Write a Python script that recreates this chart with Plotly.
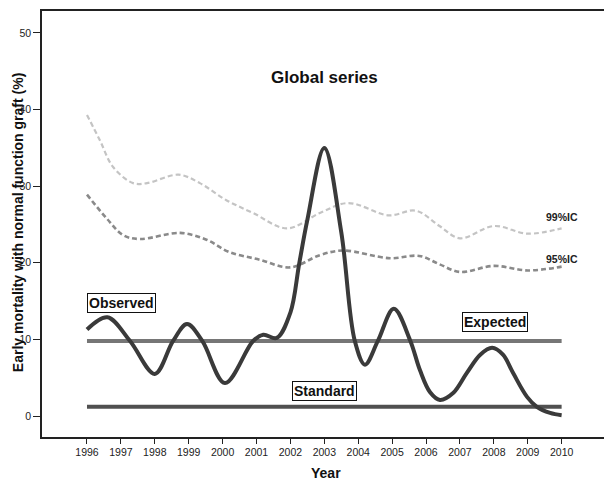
import plotly.graph_objects as go

# ---- data ----
obs_years = [1996.0, 1996.6, 1997.27, 1998.0, 1998.54, 1998.95, 1999.4, 2000.07, 2000.9,
             2001.2, 2001.6, 2002.0, 2002.26, 2002.5, 2003.0, 2003.5, 2003.9, 2004.2,
             2004.58, 2005.05, 2005.53, 2005.82, 2006.12, 2006.41, 2006.8, 2007.2, 2007.6,
             2007.95, 2008.27, 2008.57, 2008.98, 2009.27, 2009.66, 2010.0]
obs_values = [11.3, 12.9, 9.8, 5.5, 9.8, 12.0, 9.8, 4.3, 9.8,
              10.6, 10.2, 13.5, 19.9, 25.6, 35.0, 24.0, 9.8, 6.7,
              9.8, 14.0, 9.9, 6.0, 3.1, 2.1, 3.0, 5.6, 8.0,
              8.9, 8.0, 5.6, 2.5, 1.2, 0.4, 0.1]

ic99_years = [1996.0, 1996.38, 1996.77, 1997.36, 1997.77, 1998.7, 1999.33, 2000.1, 2000.9,
              2001.9, 2002.87, 2003.7, 2004.9, 2005.7, 2006.4, 2007.0, 2008.0, 2009.0, 2010.0]
ic99_values = [39.3, 36.0, 32.5, 30.4, 30.4, 31.5, 30.4, 28.2, 26.5,
               24.5, 26.5, 27.8, 26.2, 26.8, 24.8, 23.2, 24.8, 23.8, 24.5]

ic95_years = [1996.0, 1996.58, 1997.07, 1997.56, 1998.75, 1999.53, 2000.2, 2001.1, 2001.99,
              2002.87, 2003.55, 2004.94, 2005.8, 2006.4, 2007.0, 2008.0, 2009.0, 2010.0]
ic95_values = [28.9, 25.8, 23.6, 23.1, 23.9, 23.0, 21.4, 20.4, 19.4,
               21.0, 21.6, 20.6, 20.9, 19.8, 18.8, 19.6, 19.0, 19.5]

line_years = [1996, 2010]
expected_values = [9.8, 9.8]
standard_values = [1.2, 1.2]

year_ticks = list(range(1996, 2011))
y_ticks = [0, 10, 20, 30, 40, 50]

fig = go.Figure()

fig.add_trace(go.Scatter(x=ic99_years, y=ic99_values, mode="lines",
                         line=dict(color="#c4c4c4", width=2.2, dash="5px,3px", shape="spline", smoothing=1.0),
                         hoverinfo="skip"))
fig.add_trace(go.Scatter(x=ic95_years, y=ic95_values, mode="lines",
                         line=dict(color="#8a8a8a", width=2.6, dash="5px,3px", shape="spline", smoothing=1.0),
                         hoverinfo="skip"))
fig.add_trace(go.Scatter(x=line_years, y=expected_values, mode="lines",
                         line=dict(color="#767676", width=4), hoverinfo="skip"))
fig.add_trace(go.Scatter(x=line_years, y=standard_values, mode="lines",
                         line=dict(color="#505050", width=4), hoverinfo="skip"))
fig.add_trace(go.Scatter(x=obs_years, y=obs_values, mode="lines",
                         line=dict(color="#3a3a3a", width=4, shape="spline", smoothing=1.0),
                         hoverinfo="skip"))

box = dict(font=dict(family="Arial", size=14, color="#111"), showarrow=False,
           xanchor="center", yanchor="middle",
           bordercolor="#111", borderwidth=1, borderpad=1, bgcolor="rgba(255,255,255,0)")
fig.add_annotation(x=1997.02, y=14.8, text="<b>Observed</b>", **box)
fig.add_annotation(x=2008.02, y=12.3, text="<b>Expected</b>", **box)
fig.add_annotation(x=2003.02, y=3.3, text="<b>Standard</b>", **box)

small = dict(font=dict(family="Arial", size=10.5, color="#222"), showarrow=False,
             xanchor="center", yanchor="middle")
fig.add_annotation(x=2010.0, y=26.0, text="<b>99%IC</b>", **small)
fig.add_annotation(x=2010.0, y=20.5, text="<b>95%IC</b>", **small)

fig.add_annotation(x=0.503, y=0.845, xref="paper", yref="paper", text="<b>Global series</b>",
                   xanchor="center", yanchor="middle",
                   showarrow=False, font=dict(family="Arial", size=17, color="#111"))
fig.add_annotation(x=-0.0427, y=0.502, xref="paper", yref="paper", textangle=-90,
                   xanchor="center", yanchor="middle",
                   text="<b>Early mortality with normal function graft (%)</b>",
                   showarrow=False, font=dict(family="Arial", size=14, color="#111"))
fig.add_annotation(x=0.505, y=-0.085, xref="paper", yref="paper", text="<b>Year</b>",
                   xanchor="center", yanchor="middle",
                   showarrow=False, font=dict(family="Arial", size=14, color="#111"))

fig.update_layout(
    width=604, height=482,
    margin=dict(l=42, r=0, t=11, b=45),
    paper_bgcolor="white", plot_bgcolor="white",
    showlegend=False,
    xaxis=dict(range=[1994.673, 2011.25], tickvals=year_ticks, ticktext=[str(y) for y in year_ticks],
               showgrid=False, zeroline=False, showline=True, linecolor="#222", linewidth=1.5,
               mirror=True, ticks="outside", ticklen=5, tickcolor="#222", tickwidth=1.2,
               tickfont=dict(family="Arial", size=10.5, color="#222")),
    yaxis=dict(range=[-2.74, 52.87], tickvals=y_ticks, showgrid=False, zeroline=False,
               showline=True, linecolor="#222", linewidth=1.5,
               ticks="outside", ticklen=7, tickcolor="#222", tickwidth=1.2,
               tickfont=dict(family="Arial", size=10.5, color="#222")),
)

fig.write_html("out.html")
